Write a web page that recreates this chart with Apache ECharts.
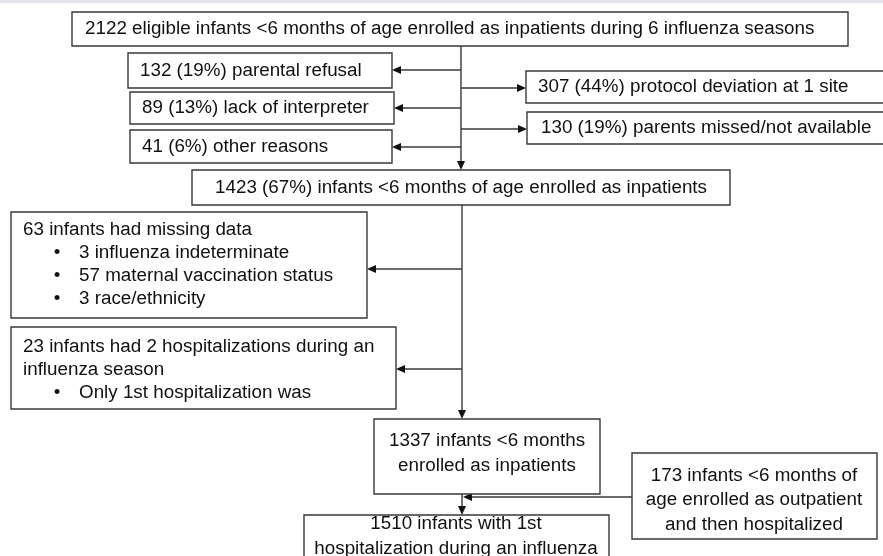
<!DOCTYPE html>
<html>
<head>
<meta charset="utf-8">
<script src="https://cdn.jsdelivr.net/npm/echarts@6/dist/echarts.min.js"></script>
<style>
html,body{margin:0;padding:0;background:#ffffff;}
#chart{width:883px;height:556px;}
</style>
</head>
<body>
<div id="chart"></div>
<script>
// ---------- content (texts of each flow box) ----------
const boxTexts = [
  ["2122 eligible infants <6 months of age enrolled as inpatients during 6 influenza seasons"],
  ["132 (19%) parental refusal"],
  ["89 (13%) lack of interpreter"],
  ["41 (6%) other reasons"],
  ["307 (44%) protocol deviation at 1 site"],
  ["130 (19%) parents missed/not available"],
  ["1423 (67%) infants <6 months of age enrolled as inpatients"],
  ["63 infants had missing data", "• 3 influenza indeterminate", "• 57 maternal vaccination status", "• 3 race/ethnicity"],
  ["23 infants had 2 hospitalizations during an", "influenza season", "• Only 1st hospitalization was"],
  ["1337 infants <6 months", "enrolled as inpatients"],
  ["173 infants <6 months of", "age enrolled as outpatient", "and then hospitalized"],
  ["1510 infants with 1st", "hospitalization during an influenza"]
];

// ---------- layout (diagram coordinates, px in a 883 x 556 space) ----------
const boxRects = [
  [72, 12, 848, 46],
  [128, 53, 392, 88],
  [130, 92, 394, 124],
  [130, 130, 392, 163],
  [526, 71, 892, 103],
  [527, 112, 892, 144],
  [192, 170, 730, 205],
  [11, 212, 367, 318],
  [11, 327, 396, 409],
  [374, 419, 600, 494],
  [632, 453, 877, 539],
  [304, 515, 609, 590]
];
// [text x, first line y, line gap, align]
const boxTextPos = [
  [85, 29, 0, 'left'],
  [140, 71, 0, 'left'],
  [142, 108, 0, 'left'],
  [142, 147, 0, 'left'],
  [538, 87, 0, 'left'],
  [541, 128, 0, 'left'],
  [215, 188, 0, 'left'],
  [23, 230, 23, 'left'],
  [23, 347, 23, 'left'],
  [487, 441, 25, 'center'],
  [754, 476, 24.5, 'center'],
  [456, 524, 25, 'center']
];
const bulletX = 57, bulletTextX = 79;

// connector segments: [x1, y1, x2 (arrow tip), y2]
const arrowSegs = [
  [461, 46, 461, 170],
  [461, 70, 392, 70],
  [461, 108, 394, 108],
  [461, 147, 392, 147],
  [461, 88, 526, 88],
  [461, 129, 527, 129],
  [462, 205, 462, 419],
  [462, 269, 367, 269],
  [462, 369, 396, 369],
  [462, 494, 462, 515],
  [632, 497, 463, 497]
];

// ---------- styles ----------
const LINE_COLOR = '#383838';
const TEXT_COLOR = '#111111';
const FONT_SIZE = 18;
const FONT = FONT_SIZE + 'px "Liberation Sans", Arial, sans-serif';
const TEXT_SCALE_X = 1.045;
const ARROW_LEN = 9, ARROW_HALF = 4;

function textEl(text, x, y, align) {
  return {
    type: 'text',
    x: x, y: y,
    scaleX: TEXT_SCALE_X,
    style: {
      text: text, x: 0, y: 0,
      font: FONT, fill: TEXT_COLOR,
      textAlign: align, textVerticalAlign: 'middle',
      align: align, verticalAlign: 'middle'
    }
  };
}

function renderBox(params, api) {
  const i = params.dataIndex;
  const p1 = api.coord([api.value(0), api.value(1)]);
  const p2 = api.coord([api.value(2), api.value(3)]);
  const children = [{
    type: 'rect',
    shape: { x: p1[0], y: p1[1], width: p2[0] - p1[0], height: p2[1] - p1[1] },
    style: { fill: '#ffffff', stroke: LINE_COLOR, lineWidth: 1.4 }
  }];
  const tp = boxTextPos[i];
  boxTexts[i].forEach(function (line, k) {
    const yy = tp[1] + k * tp[2];
    if (line.indexOf('• ') === 0) {
      const b = api.coord([bulletX, yy]);
      children.push(textEl('•', b[0], b[1], 'center'));
      const t = api.coord([bulletTextX, yy]);
      children.push(textEl(line.slice(2), t[0], t[1], 'left'));
    } else {
      const t = api.coord([tp[0], yy]);
      children.push(textEl(line, t[0], t[1], tp[3]));
    }
  });
  return { type: 'group', children: children };
}

function renderArrow(params, api) {
  const a = api.coord([api.value(0), api.value(1)]);
  const b = api.coord([api.value(2), api.value(3)]);
  const dx = b[0] - a[0], dy = b[1] - a[1];
  const len = Math.sqrt(dx * dx + dy * dy);
  const ux = dx / len, uy = dy / len;
  const bx = b[0] - ux * ARROW_LEN, by = b[1] - uy * ARROW_LEN;
  const nx = -uy, ny = ux;
  return {
    type: 'group',
    children: [
      { type: 'line', shape: { x1: a[0], y1: a[1], x2: bx, y2: by },
        style: { stroke: LINE_COLOR, lineWidth: 1.4 } },
      { type: 'polygon', shape: { points: [[b[0], b[1]], [bx + nx * ARROW_HALF, by + ny * ARROW_HALF], [bx - nx * ARROW_HALF, by - ny * ARROW_HALF]] },
        style: { fill: '#111111' } }
    ]
  };
}

const chart = echarts.init(document.getElementById('chart'), null, { renderer: 'canvas' });
chart.setOption({
  animation: false,
  backgroundColor: '#ffffff',
  grid: { left: 0, right: 0, top: 0, bottom: 0 },
  xAxis: { type: 'value', min: 0, max: 883, show: false },
  yAxis: { type: 'value', min: 0, max: 556, inverse: true, show: false },
  graphic: [{
    type: 'rect', left: 0, top: 0, z: 10,
    shape: { width: 883, height: 3 },
    style: { fill: '#e2e6eb' }
  }],
  series: [
    {
      type: 'custom', name: 'connectors', clip: false, z: 1,
      renderItem: renderArrow,
      encode: { x: [0, 2], y: [1, 3] },
      data: arrowSegs
    },
    {
      type: 'custom', name: 'boxes', clip: false, z: 2,
      renderItem: renderBox,
      encode: { x: [0, 2], y: [1, 3] },
      data: boxRects
    }
  ]
});
</script>
</body>
</html>
